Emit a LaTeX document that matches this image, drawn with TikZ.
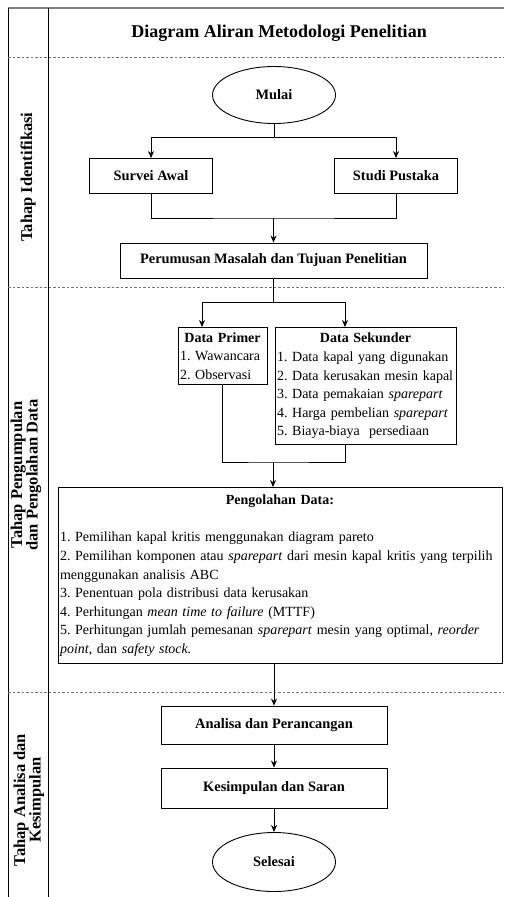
\documentclass[tikz,border=0pt]{standalone}
\usepackage{fontspec}
\setmainfont{Liberation Serif}
\usetikzlibrary{shapes.geometric,arrows.meta}
\frenchspacing
\begin{document}
\begin{tikzpicture}[x=1pt, y=-1pt, ink/.style={line width=0.8pt, black}, frame/.style={draw, line width=0.9pt}, box/.style={frame, inner sep=2pt, font=\fontsize{14.4}{18.6}\selectfont\bfseries, align=center}, oval/.style={ellipse, frame, inner sep=0pt, font=\fontsize{14.4}{18.6}\selectfont\bfseries}, listbox/.style={frame, inner xsep=2pt, inner ysep=5pt, anchor=north, align=left, font=\fontsize{14}{18.6}\selectfont}, vec/.style={-{Stealth[length=7pt, width=6pt]}, line width=0.8pt}, sep/.style={line width=0.8pt, lgGrey, dash pattern=on 2.5pt off 2pt}, phase/.style={rotate=90, align=center, font=\fontsize{16.5}{15.5}\selectfont\bfseries}]
\definecolor{lgGrey}{rgb}{0.45,0.45,0.45}
\definecolor{lgTop}{rgb}{0.50,0.50,0.50}
\useasboundingbox (0,0) rectangle (504,897);
% frame of the lanes
\draw[lgTop, line width=2pt] (8,8) -- (504,8);
\draw[ink] (8,8) -- (8,897);
\draw[ink] (48,8) -- (48,897);
\draw[sep] (8,57) -- (504,57);
\draw[sep] (8,287) -- (504,287);
\draw[sep] (8,692) -- (504,692);
\node[font=\fontsize{18}{21}\selectfont\bfseries] (judul) at (279,33) {Diagram Aliran Metodologi Penelitian};
\node[phase] (lane1) at (28,177) {Tahap Identifikasi};
\node[phase] (lane2) at (26,475) {Tahap Pengumpulan\\dan Pengolahan Data};
\node[phase] (lane3) at (29,800) {Tahap Analisa dan\\Kesimpulan};
% flow
\node[oval, minimum width=123pt, minimum height=57pt] (mulai) at (274,95) {Mulai};
\node[box, minimum width=123pt, minimum height=35pt] (survei) at (151,176) {Survei Awal};
\node[box, minimum width=123pt, minimum height=35pt] (studi) at (396,176) {Studi Pustaka};
\node[box, minimum width=307pt, minimum height=35pt] (rumusan) at (273.5,260.5) {Perumusan Masalah dan Tujuan Penelitian};
\node[listbox, text width=85pt, minimum height=54pt] (primer) at (222.5,327) {\makebox[\linewidth]{\textbf{Data Primer}}\\\mbox{1. Wawancara}\\\mbox{2. Observasi}};
\node[listbox, text width=177pt, minimum height=117pt] (sekunder) at (365.5,327) {\makebox[\linewidth]{\textbf{Data Sekunder}}\\\mbox{1. Data kapal yang digunakan}\\\mbox{2. Data kerusakan mesin kapal}\\\mbox{3. Data pemakaian \textit{sparepart}}\\\mbox{4. Harga pembelian \textit{sparepart}}\\\mbox{5. Biaya-biaya\ \ persediaan}};
\node[listbox, inner ysep=7pt, text width=440pt, minimum height=176pt] (olah) at (280,487) {\makebox[\linewidth]{\textbf{Pengolahan Data:}}\\[19pt]\mbox{1. Pemilihan kapal kritis menggunakan diagram pareto}\\\mbox{2. Pemilihan komponen atau \textit{sparepart} dari mesin kapal kritis yang terpilih}\\\mbox{menggunakan analisis ABC}\\\mbox{3. Penentuan pola distribusi data kerusakan}\\\mbox{4. Perhitungan \textit{mean time to failure} (MTTF)}\\\mbox{5. Perhitungan jumlah pemesanan \textit{sparepart} mesin yang optimal, \textit{reorder}}\\\mbox{\textit{point}, dan \textit{safety stock.}}};
\node[box, minimum width=226pt, minimum height=38pt] (analisa) at (274,725) {Analisa dan Perancangan};
\node[box, minimum width=226pt, minimum height=40pt] (simpul) at (274,788) {Kesimpulan dan Saran};
\node[oval, minimum width=123pt, minimum height=59pt] (selesai) at (274,862) {Selesai};
% connectors
\coordinate (gabung1) at (273.5,218);
\coordinate (gabung2) at (273,462);
\draw[vec] (mulai.south) -- ++(0,13) -| (survei.north);
\draw[vec] (mulai.south) -- ++(0,13) -| (studi.north);
\draw[ink] (survei.south) |- (gabung1) -| (studi.south);
\draw[vec] (gabung1) -- (rumusan.north);
\draw[vec] (rumusan.south) -- ++(0,24) -| ([xshift=-20.5pt]primer.north);
\draw[vec] (rumusan.south) -- ++(0,24) -| ([xshift=-20.5pt]sekunder.north);
\draw[ink] (primer.south) |- (gabung2) -| ([xshift=-20.5pt]sekunder.south);
\draw[vec] (gabung2) -- (gabung2 |- olah.north);
\draw[vec] (olah.south -| analisa.north) -- (analisa.north);
\draw[vec] (analisa.south) -- (simpul.north);
\draw[vec] (simpul.south) -- (selesai.north);
\end{tikzpicture}
\end{document}
